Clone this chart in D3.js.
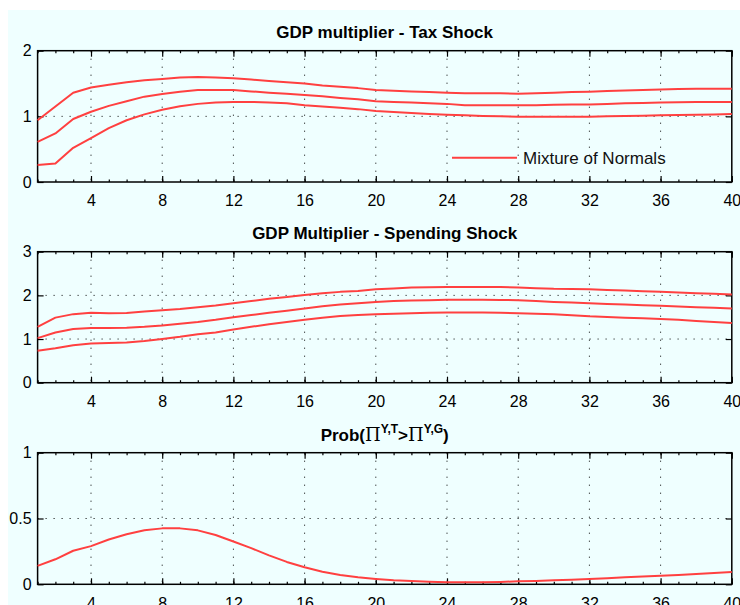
<!DOCTYPE html>
<html>
<head>
<meta charset="utf-8">
<script src="https://d3js.org/d3.v7.min.js"></script>
<style>
  body { margin: 0; background: #ffffff; }
  svg { display: block; }
  text { font-family: "Liberation Sans", Arial, sans-serif; }
</style>
</head>
<body>
<div id="chart"></div>
<script>
// horizons (quarters)
var horizons = d3.range(1, 41);
var xTicks = [4, 8, 12, 16, 20, 24, 28, 32, 36, 40];

// GDP multiplier - Tax Shock (upper band, median, lower band)
var taxUpper = [0.94, 1.15, 1.36, 1.44, 1.48, 1.52, 1.55, 1.57, 1.59, 1.60,
  1.59, 1.58, 1.56, 1.54, 1.52, 1.50, 1.47, 1.45, 1.43, 1.40,
  1.39, 1.38, 1.37, 1.36, 1.35, 1.35, 1.35, 1.345, 1.35, 1.36,
  1.37, 1.375, 1.385, 1.395, 1.40, 1.41, 1.415, 1.42, 1.42, 1.42];
var taxMedian = [0.61, 0.74, 0.96, 1.07, 1.16, 1.23, 1.30, 1.34, 1.375, 1.40,
  1.40, 1.40, 1.38, 1.36, 1.345, 1.325, 1.305, 1.28, 1.26, 1.23,
  1.22, 1.21, 1.20, 1.19, 1.17, 1.17, 1.17, 1.17, 1.17, 1.175,
  1.18, 1.18, 1.19, 1.20, 1.205, 1.21, 1.215, 1.22, 1.22, 1.22];
var taxLower = [0.26, 0.28, 0.52, 0.67, 0.82, 0.94, 1.03, 1.10, 1.155, 1.19,
  1.21, 1.22, 1.22, 1.21, 1.20, 1.17, 1.15, 1.13, 1.11, 1.08,
  1.065, 1.05, 1.035, 1.025, 1.015, 1.005, 1.0, 0.995, 0.995, 0.995,
  0.995, 0.995, 1.0, 1.005, 1.01, 1.015, 1.02, 1.025, 1.03, 1.035];

// GDP Multiplier - Spending Shock
var spendUpper = [1.28, 1.49, 1.57, 1.60, 1.59, 1.595, 1.63, 1.66, 1.69, 1.73,
  1.77, 1.82, 1.87, 1.92, 1.96, 2.01, 2.05, 2.08, 2.10, 2.14,
  2.16, 2.18, 2.185, 2.19, 2.19, 2.19, 2.19, 2.18, 2.165, 2.15,
  2.145, 2.14, 2.125, 2.11, 2.095, 2.08, 2.065, 2.05, 2.035, 2.02];
var spendMedian = [1.02, 1.15, 1.23, 1.25, 1.25, 1.26, 1.28, 1.31, 1.35, 1.39,
  1.44, 1.50, 1.55, 1.60, 1.65, 1.70, 1.75, 1.79, 1.82, 1.85,
  1.87, 1.88, 1.89, 1.90, 1.90, 1.90, 1.895, 1.89, 1.87, 1.85,
  1.835, 1.82, 1.805, 1.79, 1.775, 1.76, 1.745, 1.73, 1.715, 1.70];
var spendLower = [0.73, 0.79, 0.86, 0.90, 0.91, 0.92, 0.955, 1.00, 1.05, 1.11,
  1.15, 1.22, 1.28, 1.34, 1.39, 1.44, 1.49, 1.53, 1.55, 1.57,
  1.58, 1.59, 1.60, 1.61, 1.61, 1.61, 1.60, 1.59, 1.58, 1.57,
  1.545, 1.52, 1.505, 1.49, 1.475, 1.46, 1.44, 1.415, 1.39, 1.37];

// Prob(Pi^{Y,T} > Pi^{Y,G})
var probTax = [0.14, 0.19, 0.255, 0.29, 0.34, 0.38, 0.41, 0.425, 0.425, 0.41,
  0.375, 0.325, 0.275, 0.22, 0.17, 0.13, 0.095, 0.07, 0.053, 0.04,
  0.03, 0.025, 0.02, 0.015, 0.015, 0.015, 0.018, 0.023, 0.026, 0.03,
  0.035, 0.04, 0.046, 0.053, 0.059, 0.065, 0.071, 0.078, 0.085, 0.093];

var svgWidth = 740;
var svgHeight = 605;
var xLeft = 37.6, xRight = 731.8;
var lineColor = "#ff4040";

var svg = d3.select("#chart")
  .append("svg")
  .attr("width", svgWidth)
  .attr("height", svgHeight);

// figure background (MATLAB-ish light cyan)
svg.append("rect")
  .attr("x", 8).attr("y", 10)
  .attr("width", svgWidth - 8).attr("height", svgHeight - 10)
  .attr("fill", "#efffff");

var xScale = d3.scaleLinear().domain([1, 40]).range([xLeft, xRight]);

var panels = [
  { top: 50.7, bottom: 182, yMax: 2, yTicks: [0, 1, 2], series: [taxUpper, taxMedian, taxLower], title: "GDP multiplier - Tax Shock", legend: true },
  { top: 251.7, bottom: 382.7, yMax: 3, yTicks: [0, 1, 2, 3], series: [spendUpper, spendMedian, spendLower], title: "GDP Multiplier - Spending Shock" },
  { top: 452.7, bottom: 584.3, yMax: 1, yTicks: [0, 0.5, 1], series: [probTax], title: null }
];

panels.forEach(function(p) {
  var yScale = d3.scaleLinear().domain([0, p.yMax]).range([p.bottom, p.top]);
  var g = svg.append("g");

  // grid (dotted)
  g.selectAll(".vgrid")
    .data(xTicks.slice(0, -1))
    .enter()
    .append("line")
    .attr("x1", d => xScale(d)).attr("x2", d => xScale(d))
    .attr("y1", p.top).attr("y2", p.bottom)
    .attr("stroke", "#000")
    .attr("stroke-width", 1)
    .attr("stroke-dasharray", "1,7");

  g.selectAll(".hgrid")
    .data(p.yTicks.slice(1, -1))
    .enter()
    .append("line")
    .attr("x1", xLeft).attr("x2", xRight)
    .attr("y1", d => yScale(d)).attr("y2", d => yScale(d))
    .attr("stroke", "#000")
    .attr("stroke-width", 1)
    .attr("stroke-dasharray", "1,7");

  // axes, ticks pointing inward, on all four sides
  var bottomAxis = d3.axisBottom(xScale).tickValues(xTicks).tickSize(-6).tickPadding(13).tickSizeOuter(0);
  var topAxis = d3.axisTop(xScale).tickValues(xTicks).tickSize(-6).tickFormat("").tickSizeOuter(0);
  var minorBottom = d3.axisBottom(xScale).tickValues(horizons).tickSize(-2.5).tickFormat("").tickSizeOuter(0);
  var minorTop = d3.axisTop(xScale).tickValues(horizons).tickSize(-2.5).tickFormat("").tickSizeOuter(0);
  var leftAxis = d3.axisLeft(yScale).tickValues(p.yTicks).tickFormat(d => d).tickSize(-6).tickPadding(6).tickSizeOuter(0);
  var rightAxis = d3.axisRight(yScale).tickValues(p.yTicks).tickSize(-6).tickFormat("").tickSizeOuter(0);

  [
    [minorBottom, `translate(0, ${p.bottom})`],
    [minorTop, `translate(0, ${p.top})`],
    [bottomAxis, `translate(0, ${p.bottom})`],
    [topAxis, `translate(0, ${p.top})`],
    [leftAxis, `translate(${xLeft}, 0)`],
    [rightAxis, `translate(${xRight}, 0)`]
  ].forEach(function(a) {
    var ax = g.append("g").attr("transform", a[1]).call(a[0]);
    ax.select(".domain").remove();
    ax.selectAll("line").attr("stroke", "#000").attr("stroke-width", 1.2);
    ax.selectAll("text").attr("font-size", "16px").attr("fill", "#000")
      .attr("font-family", "Liberation Sans, Arial, sans-serif");
  });

  // box
  g.append("rect")
    .attr("x", xLeft).attr("y", p.top)
    .attr("width", xRight - xLeft).attr("height", p.bottom - p.top)
    .attr("fill", "none")
    .attr("stroke", "#000")
    .attr("stroke-width", 1.5);

  // lines
  var line = d3.line()
    .x((d, i) => xScale(horizons[i]))
    .y(d => yScale(d));

  p.series.forEach(function(s) {
    g.append("path")
      .datum(s)
      .attr("d", line)
      .attr("fill", "none")
      .attr("stroke", lineColor)
      .attr("stroke-width", 2)
      .attr("stroke-linejoin", "round");
  });

  if (p.title) {
    g.append("text")
      .attr("x", (xLeft + xRight) / 2)
      .attr("y", p.top - 12.5)
      .attr("text-anchor", "middle")
      .attr("font-size", "17px")
      .attr("font-weight", "bold")
      .text(p.title);
  }

  if (p.legend) {
    g.append("line")
      .attr("x1", 452).attr("x2", 517)
      .attr("y1", 157.7).attr("y2", 157.7)
      .attr("stroke", lineColor)
      .attr("stroke-width", 2);
    g.append("text")
      .attr("x", 523)
      .attr("y", 163.5)
      .attr("font-size", "17px")
      .attr("fill", "#111")
      .text("Mixture of Normals");
  }
});

// third panel title with Greek Pi and superscripts
var t3 = svg.append("text")
  .attr("x", (xLeft + xRight) / 2)
  .attr("y", 441)
  .attr("text-anchor", "middle")
  .attr("font-size", "17px")
  .attr("font-weight", "bold");
t3.append("tspan").text("Prob(");
t3.append("tspan").attr("font-family", "DejaVu Serif, serif").attr("font-weight", "normal").attr("font-size", "18px").text("Π");
t3.append("tspan").attr("font-size", "12px").attr("dy", -8).text("Y,T");
t3.append("tspan").attr("dy", 8).text(">");
t3.append("tspan").attr("font-family", "DejaVu Serif, serif").attr("font-weight", "normal").attr("font-size", "18px").text("Π");
t3.append("tspan").attr("font-size", "12px").attr("dy", -8).text("Y,G");
t3.append("tspan").attr("dy", 8).text(")");
</script>
</body>
</html>
